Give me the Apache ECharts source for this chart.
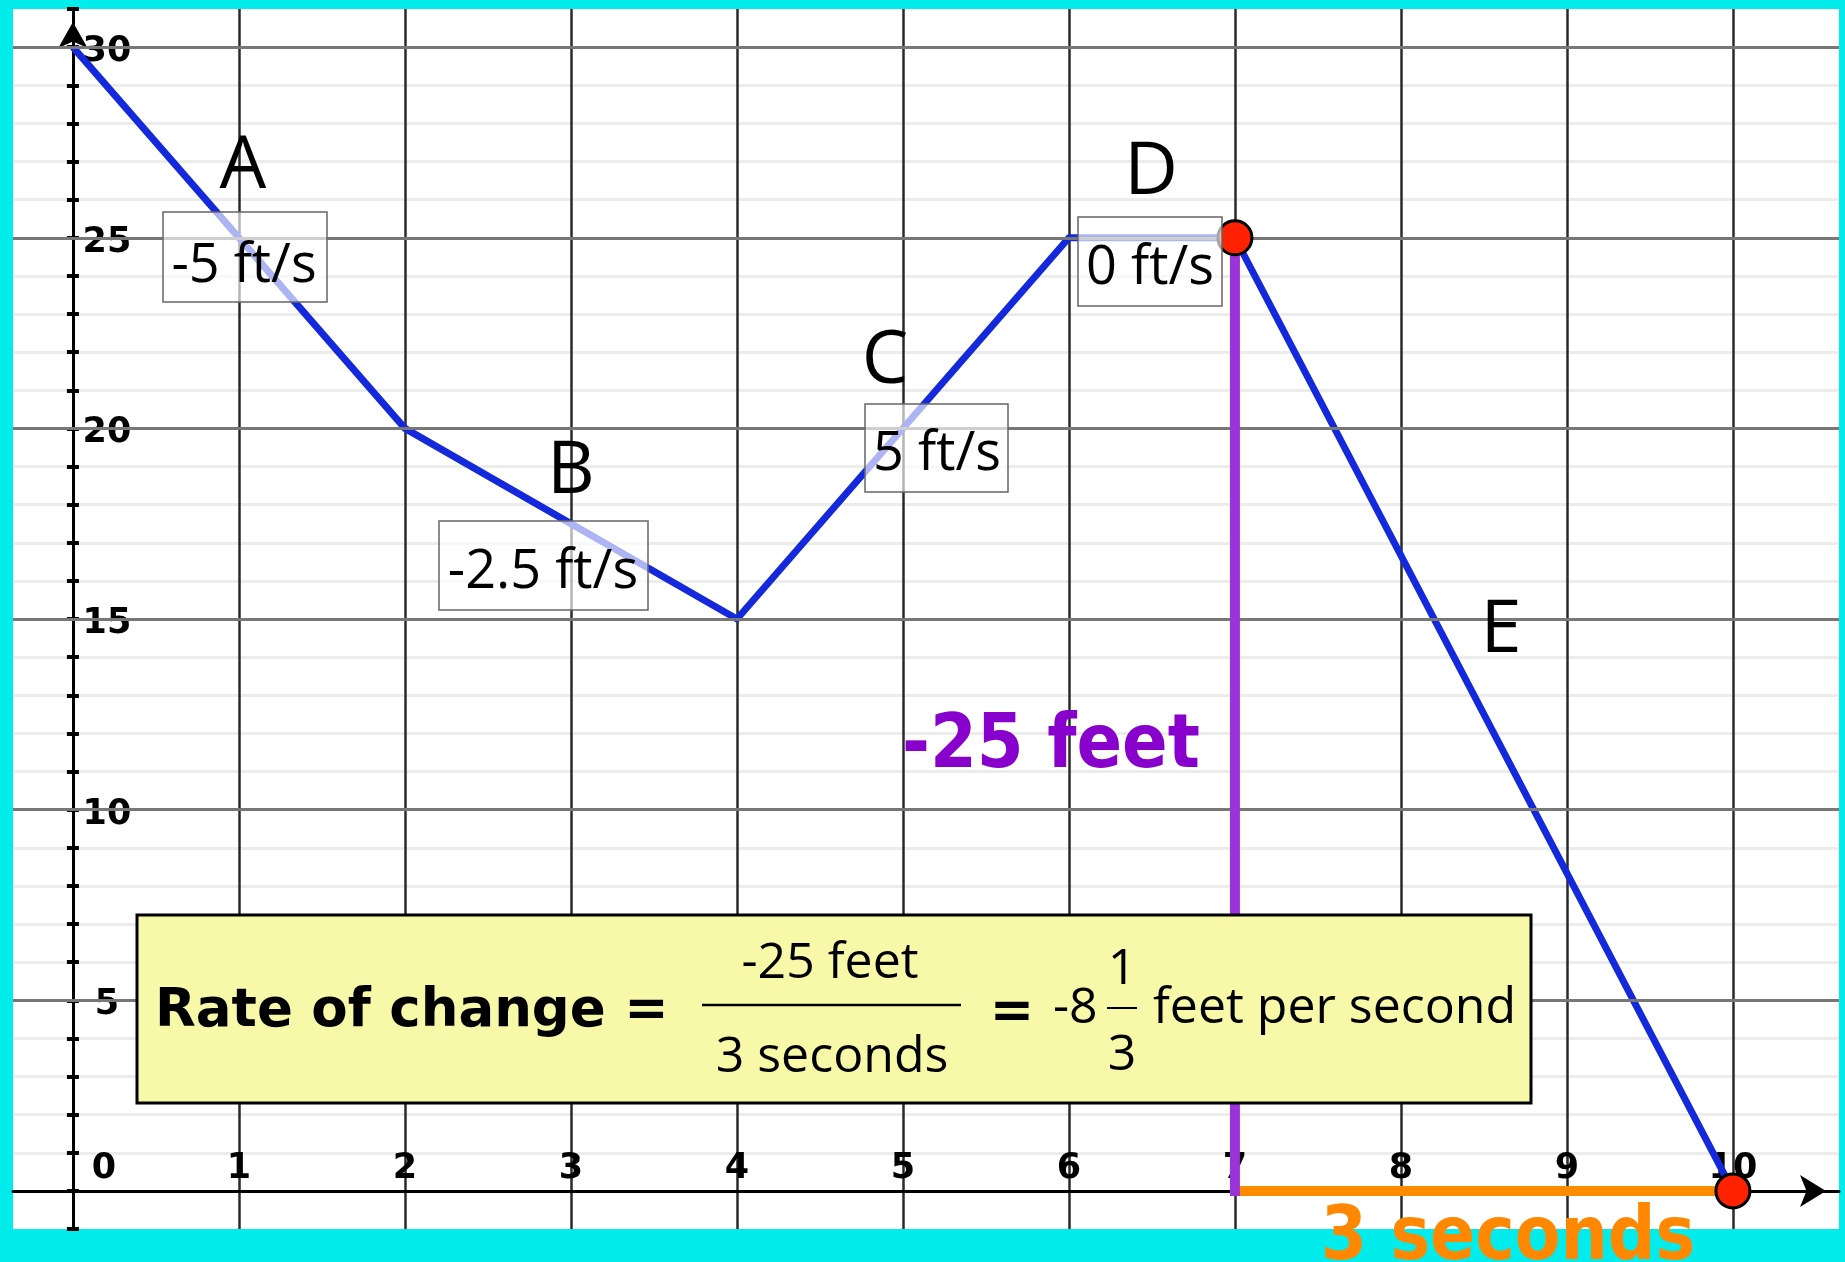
<!DOCTYPE html>
<html lang="en">
<head>
<meta charset="UTF-8">
<title>Rate of change</title>
<script src="https://cdn.jsdelivr.net/npm/echarts@6/dist/echarts.min.js"></script>
<style>
  html, body { margin: 0; padding: 0; background: #02ecec; }
  #chart { width: 1845px; height: 1262px; }
</style>
</head>
<body>
<div id="chart"></div>
<script>
  // data
  const timeSec = [0, 2, 4, 6, 7, 10];
  const heightFt = [30, 20, 15, 25, 25, 0];
  const segmentLetters = ['A', 'B', 'C', 'D', 'E'];
  const segmentRates = ['-5 ft/s', '-2.5 ft/s', '5 ft/s', '0 ft/s'];
  const xTickValues = [0, 1, 2, 3, 4, 5, 6, 7, 8, 9, 10];
  const yMajorTicks = [5, 10, 15, 20, 25, 30];
  const changeFrom = [7, 25];
  const changeTo = [10, 0];

  const BOLD = '"DejaVu Sans", sans-serif';
  const REG = '"Open Sans", sans-serif';

  const chart = echarts.init(document.getElementById('chart'));

  // annotation layout (pixels)
  const letterPos = [[243, 167], [571, 472], [885, 362], [1151, 173], [1501, 631]];
  const rateBoxes = [
    { x: 163, y: 212, w: 164, h: 90, tx: 244, ty: 267 },
    { x: 439, y: 521, w: 209, h: 89, tx: 543, ty: 573 },
    { x: 865, y: 404, w: 143, h: 88, tx: 937, ty: 455 },
    { x: 1078, y: 217, w: 144, h: 89, tx: 1150, ty: 269 }
  ];

  function txt(text, x, y, font, opts) {
    opts = opts || {};
    return {
      type: 'text', x: x, y: y, z: 100,
      scaleX: opts.scaleX || 1,
      style: {
        text: text, font: font, fill: opts.fill || '#000',
        align: opts.align || 'center', textAlign: opts.align || 'center',
        verticalAlign: 'middle', textVerticalAlign: 'middle'
      }
    };
  }

  const graphics = [];
  letterPos.forEach((p, i) => graphics.push(txt(segmentLetters[i], p[0], p[1], '74px ' + REG)));
  rateBoxes.forEach((b, i) => {
    graphics.push({
      type: 'rect', z: 100,
      shape: { x: b.x, y: b.y, width: b.w, height: b.h },
      style: { fill: 'rgba(255,255,255,0.65)', stroke: '#666', lineWidth: 1.5 }
    });
    graphics.push(txt(segmentRates[i], b.tx, b.ty, '54px ' + REG));
  });

  // rate of change box
  graphics.push({
    type: 'rect', z: 100,
    shape: { x: 137, y: 915, width: 1394, height: 188 },
    style: { fill: '#f8f9a8', stroke: '#000', lineWidth: 3 }
  });
  graphics.push(txt('Rate of change =', 155, 1012, 'bold 53px ' + BOLD, { align: 'left' }));
  graphics.push(txt('-25 feet', 830, 964, '50px ' + REG));
  graphics.push({ type: 'line', z: 100, shape: { x1: 702, y1: 1005, x2: 961, y2: 1005 }, style: { stroke: '#000', lineWidth: 2.5 } });
  graphics.push(txt('3 seconds', 832, 1058, '50px ' + REG));
  graphics.push(txt('=', 1012, 1014, 'bold 53px ' + BOLD));
  graphics.push(txt('-8', 1053, 1009, '50px ' + REG, { align: 'left' }));
  graphics.push(txt('1', 1122, 970, '50px ' + REG));
  graphics.push({ type: 'line', z: 100, shape: { x1: 1107, y1: 1008, x2: 1137, y2: 1008 }, style: { stroke: '#000', lineWidth: 2 } });
  graphics.push(txt('3', 1122, 1056, '50px ' + REG));
  graphics.push(txt('feet per second', 1153, 1009, '50px ' + REG, { align: 'left' }));

  // change labels
  graphics.push(txt('-25 feet', 1051, 748, 'bold 74px ' + BOLD, { fill: '#8800cc', scaleX: 0.91 }));
  graphics.push(txt('3 seconds', 1508, 1240, 'bold 74px ' + BOLD, { fill: '#ff8800', scaleX: 0.9 }));

  const yAxisBase = {
    type: 'value', min: -1, max: 31, interval: 1,
    axisLine: { onZero: true, onZeroAxisIndex: 0, lineStyle: { color: '#000', width: 3 } },
    axisTick: { show: true, length: 6, lineStyle: { color: '#000', width: 4 } },
    axisLabel: { show: false }
  };

  const tickFont = {
    color: '#000', fontFamily: BOLD, fontWeight: 'bold', fontSize: 35,
    textBorderWidth: 0, textBorderColor: 'transparent', opacity: 1
  };

  chart.setOption({
    animation: false,
    backgroundColor: '#02ecec',
    grid: {
      left: 13, top: 9, width: 1826, height: 1220,
      show: true, backgroundColor: '#fff', borderWidth: 0
    },
    xAxis: {
      type: 'value', min: -0.361, max: 10.639, minInterval: 1, maxInterval: 1,
      axisLine: {
        onZero: true, onZeroAxisIndex: 0,
        symbol: ['none', 'arrow'], symbolSize: [24, 26], symbolOffset: [0, -13],
        lineStyle: { color: '#000', width: 3 }
      },
      axisTick: { show: false },
      axisLabel: { show: false },
      splitLine: {
        show: true, showMinLine: false, showMaxLine: false,
        lineStyle: { color: '#2a2a2a', width: 2.5 }
      }
    },
    yAxis: [
      Object.assign({}, yAxisBase, {
        position: 'left',
        axisLine: Object.assign({}, yAxisBase.axisLine, {
          symbol: ['none', 'arrow'], symbolSize: [22, 26], symbolOffset: [0, -13]
        }),
        splitLine: {
          show: true, showMinLine: false, showMaxLine: false,
          lineStyle: { color: '#ececec', width: 3 }
        }
      }),
      Object.assign({}, yAxisBase, {
        position: 'right',
        splitLine: { show: false }
      })
    ],
    series: [
      {
        // major horizontal grid lines
        type: 'line', data: [], z: 1, silent: true,
        markLine: {
          silent: true, symbol: 'none', animation: false,
          label: { show: false },
          lineStyle: { color: '#777', width: 3, type: 'solid' },
          emphasis: { disabled: true },
          data: yMajorTicks.map(v => ({ yAxis: v }))
        }
      },
      {
        // x tick labels, sitting above the axis
        type: 'scatter', z: 2, silent: true,
        data: xTickValues.map(v => [v, 0]),
        symbolSize: 0.1, itemStyle: { color: '#000' },
        label: Object.assign({
          show: true, position: 'inside',
          formatter: p => String(p.value[0])
        }, tickFont),
        labelLayout: p => (p.dataIndex === 0 ? { dx: 31, dy: -22 } : { dy: -22 })
      },
      {
        // y tick labels, right of the axis
        type: 'scatter', z: 2, silent: true,
        data: yMajorTicks.map(v => [0, v]),
        symbolSize: 0.1, itemStyle: { color: '#000' },
        label: Object.assign({
          show: true, position: 'inside', offset: [34, 5],
          formatter: p => String(p.value[1])
        }, tickFont)
      },
      {
        type: 'line', z: 3, silent: true,
        data: timeSec.map((t, i) => [t, heightFt[i]]),
        symbol: 'none',
        lineStyle: { color: '#1428dc', width: 7, join: 'round' }
      },
      {
        type: 'line', z: 4, silent: true,
        data: [[changeFrom[0], changeTo[1]], changeTo],
        symbol: 'none',
        lineStyle: { color: '#ff8c00', width: 10 }
      },
      {
        type: 'line', z: 5, silent: true,
        data: [changeFrom, [changeFrom[0], changeTo[1]]],
        symbol: 'none',
        lineStyle: { color: '#9a33d8', width: 10, cap: 'square' }
      },
      {
        type: 'scatter', z: 6, silent: true,
        data: [changeFrom, changeTo],
        symbolSize: 34,
        itemStyle: { color: '#ff2200', borderColor: '#000', borderWidth: 3, opacity: 1 }
      }
    ],
    graphic: graphics
  });
</script>
</body>
</html>
